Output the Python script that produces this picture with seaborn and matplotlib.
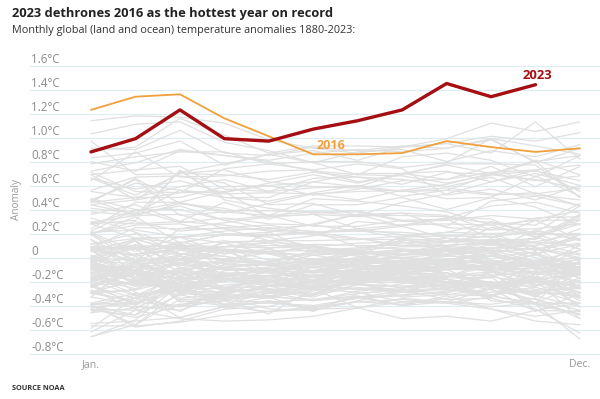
import numpy as np
import pandas as pd
import matplotlib
matplotlib.use("Agg")
import matplotlib.pyplot as plt
import matplotlib.transforms as mtransforms
import seaborn as sns

# monthly anomalies, Jan..Dec, read/estimated from the chart
months = ["Jan.", "Feb.", "Mar.", "Apr.", "May", "Jun.", "Jul.", "Aug.", "Sep.", "Oct.", "Nov.", "Dec."]

anom_2023 = [0.88, 0.99, 1.23, 0.99, 0.97, 1.07, 1.14, 1.23, 1.45, 1.34, 1.44]
anom_2016 = [1.23, 1.34, 1.36, 1.16, 1.01, 0.86, 0.86, 0.87, 0.97, 0.92, 0.88, 0.91]

# all other years 1880-2022, in hundredths of a degree C
gray_years = [y for y in range(1880, 2023) if y != 2016]
gray_rows = [
    [-5, -14, -10, -16, -9, -20, -18, -7, -13, -22, -20, -21],
    [-18, -12, 1, -2, -5, -19, 0, -3, -15, -21, -18, -7],
    [9, 8, 2, -19, -16, -24, -10, -8, -13, -23, -16, -32],
    [-30, -36, -12, -18, -18, -8, -7, -14, -22, -12, -24, -12],
    [-13, -8, -36, -40, -33, -35, -30, -27, -27, -24, -30, -29],
    [-59, -33, -26, -42, -36, -42, -33, -31, -29, -23, -24, -9],
    [-43, -50, -40, -28, -26, -32, -17, -26, -18, -25, -29, -25],
    [-66, -56, -35, -34, -30, -24, -22, -28, -21, -31, -27, -38],
    [-42, -37, -41, -30, -24, -20, -9, -10, -8, 2, -6, -8],
    [-10, 16, 3, -2, -6, -13, -7, -17, -20, -24, -28, -33],
    [-43, -44, -39, -36, -47, -26, -29, -37, -37, -26, -45, -30],
    [-44, -48, -17, -28, -15, -22, -17, -14, -13, -21, -38, -2],
    [-30, -10, -37, -34, -24, -23, -27, -22, -13, -16, -44, -45],
    [-66, -52, -23, -31, -34, -26, -13, -21, -23, -16, -22, -34],
    [-46, -31, -24, -39, -29, -36, -28, -25, -24, -20, -29, -24],
    [-38, -39, -25, -18, -24, -16, -12, -11, -3, -12, -17, -24],
    [-23, -10, -30, -32, -16, -4, 3, -7, -3, 2, -10, -4],
    [-11, -14, -12, -3, -4, -12, -6, -3, -3, -8, -16, -26],
    [-4, -29, -45, -26, -30, -20, -22, -16, -24, -32, -38, -22],
    [-15, -31, -27, -13, -19, -24, -10, -3, -2, -5, 5, -26],
    [-33, -4, 1, -10, -10, -6, -6, -8, -4, -2, -14, -4],
    [-19, -10, -6, -13, -12, -15, -14, -14, -13, -25, -19, -29],
    [-20, -4, -28, -33, -28, -33, -22, -24, -24, -32, -39, -48],
    [-25, -11, -24, -40, -37, -42, -33, -40, -37, -41, -38, -47],
    [-55, -53, -50, -41, -45, -43, -42, -37, -38, -33, -18, -29],
    [-27, -43, -22, -30, -24, -21, -19, -12, -18, -24, -5, -17],
    [-19, -32, -15, -8, -21, -15, -18, -14, -26, -20, -33, -12],
    [-40, -48, -31, -39, -38, -40, -34, -32, -28, -21, -39, -38],
    [-38, -30, -50, -41, -37, -35, -32, -40, -32, -43, -49, -44],
    [-62, -44, -51, -53, -52, -49, -42, -34, -37, -39, -34, -51],
    [-39, -34, -41, -36, -37, -43, -37, -35, -38, -43, -53, -56],
    [-57, -57, -54, -48, -45, -41, -37, -39, -34, -26, -20, -24],
    [-24, -14, -32, -18, -20, -26, -42, -51, -49, -53, -44, -38],
    [-39, -41, -44, -32, -43, -44, -36, -29, -31, -26, -14, -13],
    [-6, -22, -22, -25, -18, -19, -15, -13, -16, -4, -12, -11],
    [-17, -3, -19, -3, -12, -11, -5, -15, -13, -24, -14, -4],
    [-8, -12, -34, -30, -33, -45, -30, -27, -35, -34, -43, -63],
    [-39, -58, -53, -43, -41, -30, -19, -19, -18, -36, -39, -68],
    [-46, -42, -26, -35, -32, -25, -20, -21, -16, -7, -18, -36],
    [-12, -19, -23, -17, -27, -31, -25, -27, -22, -24, -38, -38],
    [-13, -24, -12, -25, -24, -30, -23, -24, -20, -27, -35, -44],
    [-4, -21, -26, -26, -24, -19, -13, -18, -15, -12, -18, -15],
    [-28, -38, -18, -27, -32, -28, -21, -33, -31, -32, -13, -20],
    [-24, -38, -26, -32, -33, -24, -26, -27, -30, -12, -3, -12],
    [-18, -26, -13, -27, -27, -23, -26, -29, -26, -33, -17, -41],
    [-29, -27, -18, -15, -22, -27, -19, -18, -17, -17, -2, -8],
    [8, -5, -4, -15, -15, -21, -21, -13, -9, -6, -7, -25],
    [-16, -22, -26, -23, -20, -24, -15, -20, -10, -8, -14, -41],
    [-4, -12, -28, -29, -26, -31, -16, -20, -21, -15, -12, -12],
    [-40, -56, -29, -33, -32, -36, -33, -28, -25, -23, -19, -51],
    [-23, -21, -9, -18, -15, -12, -13, -10, -7, -10, 3, -14],
    [-7, -20, -4, -10, -11, -3, -3, -4, -5, -3, -7, -4],
    [6, -19, -21, -8, -11, -17, -15, -11, -6, -12, -23, -20],
    [-24, -34, -23, -18, -23, -26, -20, -19, -24, -24, -32, -41],
    [-16, -8, -27, -20, -12, -15, -10, -9, -9, -10, -3, -10],
    [-22, 1, -26, -36, -27, -24, -18, -16, -16, -14, -32, -19],
    [-22, -40, -20, -15, -15, -15, -10, -9, -4, -4, -5, -2],
    [-9, 3, -16, -8, -6, -2, -2, 5, 6, 1, -3, -14],
    [5, 3, 7, 6, -7, -11, -4, 0, 3, 6, 3, -18],
    [-3, -5, -15, -6, -6, -3, -4, -3, 2, -4, 2, 20],
    [-4, 8, 7, 9, 8, 11, 10, 10, 13, 13, 16, 31],
    [11, 16, 12, 19, 19, 21, 23, 16, 13, 30, 20, 19],
    [20, 1, 8, 7, 5, 6, 1, -4, 1, 8, 7, 12],
    [-6, 11, -7, 5, 3, -6, 4, 6, 8, 25, 19, 20],
    [28, 16, 17, 12, 14, 14, 15, 18, 21, 29, 20, 7],
    [9, -4, 2, 12, 3, 2, 5, 17, 18, 20, 8, -13],
    [-2, -2, -2, 7, -13, -19, -8, -8, -1, -5, -6, -33],
    [-13, -8, 6, 1, -6, 2, -4, -3, -7, 8, 0, -14],
    [7, -18, -21, -6, -6, -11, -12, -13, -9, -9, -9, -21],
    [1, -16, -2, -9, -11, -20, -14, -9, -10, -6, -8, -15],
    [-30, -27, -8, -20, -11, -8, -13, -17, -13, -24, -31, -17],
    [-33, -39, -16, -8, -3, -5, -4, 2, 3, 5, -9, 6],
    [9, 7, -12, -1, -6, -5, 0, 3, 5, -4, -14, -5],
    [6, 10, 9, 14, 8, 9, 3, 5, 7, 6, -3, 6],
    [-18, -7, -15, -13, -20, -16, -17, -12, -9, -7, -3, -15],
    [15, -14, -29, -19, -20, -11, -13, -4, -10, -10, -27, -26],
    [-14, -24, -21, -19, -23, -15, -13, -19, -20, -25, -18, -14],
    [-8, -8, -5, 5, 5, 8, 6, 9, 9, 8, 10, 16],
    [33, 21, 9, 3, 7, -2, 5, -1, -2, 4, 8, 2],
    [6, 2, 13, 6, 4, 2, 4, 0, -2, -6, -4, 0],
    [-3, 14, -26, -11, -8, -1, -4, 2, 5, -2, -8, 10],
    [6, 15, 6, 9, 10, 10, 4, 6, 1, 1, 4, -9],
    [6, 10, 3, 1, -4, 4, 4, 2, 6, 5, 7, 0],
    [-1, 14, -9, -2, -5, 6, 8, 12, 14, 14, 12, 3],
    [-6, -10, -19, -25, -20, -15, -13, -20, -27, -29, -25, -32],
    [-10, -17, -11, -17, -10, -5, -11, -6, -9, -6, -5, -11],
    [-13, -6, -1, -9, -11, -2, 3, -5, -3, -10, -5, -8],
    [-9, -14, -4, -4, 8, -9, -2, 0, -3, 4, -6, -5],
    [-24, -13, 12, -9, -13, -7, -8, -6, -8, 1, -3, -10],
    [-10, -10, -1, 13, 14, 7, 5, 3, 7, 8, 13, 20],
    [11, 20, 3, 7, -2, -1, -2, -8, 6, 3, -3, -10],
    [-4, -14, -17, -14, -11, -13, -10, -7, -5, -9, -3, -8],
    [-29, -19, -2, -5, -3, 4, 2, 7, 6, 12, 10, 24],
    [20, 27, 28, 20, 18, 21, 16, 10, 10, 13, 9, -2],
    [-17, -23, -9, -10, -9, -8, -6, -2, -6, -11, -9, -8],
    [9, 7, 8, -2, 4, -5, -4, -13, -5, -12, -12, -15],
    [-8, -20, -28, -14, -24, -16, -12, -14, -10, -25, -11, -1],
    [0, 16, 17, 22, 25, 19, 15, 15, 8, 6, 23, 14],
    [7, 8, 11, 5, 5, -5, 4, -10, 6, 1, 17, 7],
    [2, -11, 10, 6, 4, 9, 4, 17, 21, 20, 21, 43],
    [20, 30, 22, 25, 27, 21, 22, 21, 18, 17, 22, 15],
    [44, 36, 43, 31, 24, 27, 22, 26, 16, 10, 16, 33],
    [-2, 9, -5, 9, 12, 4, 6, 2, 13, 15, 15, 35],
    [49, 40, 40, 31, 35, 26, 26, 31, 32, 16, 31, 15],
    [21, 5, 17, 3, 21, 5, 7, 14, 16, 14, 2, -6],
    [15, -3, 10, 9, 13, 10, 2, 15, 10, 12, 3, 11],
    [21, 23, 17, 19, 17, 9, 12, 13, 6, 14, 13, 10],
    [19, 34, 12, 19, 21, 28, 36, 26, 33, 29, 27, 45],
    [48, 35, 45, 39, 39, 38, 35, 35, 34, 32, 17, 28],
    [8, 25, 24, 24, 14, 18, 30, 27, 28, 27, 17, 36],
    [28, 31, 73, 48, 41, 37, 39, 31, 26, 47, 51, 43],
    [36, 44, 30, 46, 35, 49, 47, 43, 38, 27, 31, 31],
    [38, 35, 36, 24, 23, 22, 9, 7, 2, 11, 6, 19],
    [30, 28, 30, 27, 22, 20, 24, 19, 14, 18, 6, 16],
    [19, -3, 24, 29, 34, 36, 24, 27, 33, 43, 46, 37],
    [46, 66, 45, 41, 32, 44, 44, 50, 40, 50, 42, 27],
    [22, 40, 29, 33, 28, 27, 36, 37, 25, 23, 33, 34],
    [28, 39, 46, 37, 45, 53, 48, 56, 61, 70, 64, 68],
    [64, 88, 67, 68, 72, 73, 78, 74, 52, 57, 48, 60],
    [47, 65, 35, 38, 35, 38, 38, 30, 31, 35, 32, 39],
    [24, 46, 46, 55, 34, 36, 34, 37, 35, 23, 24, 28],
    [41, 37, 56, 53, 54, 53, 55, 56, 49, 50, 68, 51],
    [69, 73, 76, 57, 55, 58, 60, 55, 56, 52, 54, 43],
    [71, 55, 54, 55, 60, 52, 57, 64, 65, 76, 59, 76],
    [56, 67, 68, 62, 44, 45, 35, 46, 53, 63, 73, 55],
    [66, 52, 70, 69, 65, 71, 67, 61, 71, 69, 72, 64],
    [48, 62, 56, 50, 50, 63, 59, 70, 65, 71, 73, 77],
    [97, 69, 70, 73, 63, 59, 58, 55, 58, 53, 52, 48],
    [29, 35, 72, 50, 47, 54, 60, 51, 56, 69, 65, 57],
    [55, 50, 50, 59, 60, 63, 70, 70, 72, 63, 70, 60],
    [72, 79, 90, 85, 80, 72, 69, 68, 62, 69, 80, 50],
    [46, 50, 59, 65, 55, 66, 67, 65, 59, 67, 53, 58],
    [44, 48, 54, 74, 78, 73, 63, 69, 78, 78, 77, 50],
    [66, 57, 64, 54, 62, 69, 62, 70, 77, 70, 81, 69],
    [69, 48, 71, 78, 86, 79, 69, 84, 87, 81, 67, 85],
    [83, 87, 97, 77, 86, 89, 81, 92, 99, 112, 105, 113],
    [103, 111, 113, 96, 89, 79, 88, 90, 80, 89, 84, 94],
    [78, 84, 88, 88, 78, 80, 80, 75, 79, 99, 79, 91],
    [89, 92, 116, 102, 87, 93, 93, 92, 95, 101, 97, 104],
    [114, 118, 117, 112, 98, 91, 87, 92, 95, 87, 113, 82],
    [80, 72, 89, 85, 81, 87, 90, 88, 91, 99, 93, 86],
    [91, 90, 106, 87, 85, 92, 89, 93, 91, 98, 80, 85],
]

tick_vals = [-0.8, -0.6, -0.4, -0.2, 0, 0.2, 0.4, 0.6, 0.8, 1.0, 1.2, 1.4, 1.6]
tick_labels = ["-0.8°C", "-0.6°C", "-0.4°C", "-0.2°C", "0", "0.2°C", "0.4°C",
               "0.6°C", "0.8°C", "1.0°C", "1.2°C", "1.4°C", "1.6°C"]

# long tables for seaborn
gray = pd.DataFrame(
    [(yr, m, v / 100) for yr, row in zip(gray_years, gray_rows) for m, v in enumerate(row)],
    columns=["year", "month", "anomaly"],
)
df16 = pd.DataFrame({"month": range(12), "anomaly": anom_2016})
df23 = pd.DataFrame({"month": range(len(anom_2023)), "anomaly": anom_2023})

sns.set_style("white")
plt.rcParams["font.family"] = ["Open Sans", "DejaVu Sans"]

fig = plt.figure(figsize=(6, 3.99), dpi=100)
ax = fig.add_axes([30 / 600, 1 - 356 / 399, 570 / 600, (356 - 58) / 399])

sns.lineplot(data=gray, x="month", y="anomaly", units="year", estimator=None,
             color="#e0e0e0", lw=0.9, ax=ax, legend=False)
sns.lineplot(data=df16, x="month", y="anomaly", color="#f0a03c", lw=1.3, ax=ax)
sns.lineplot(data=df23, x="month", y="anomaly", color="#a50e12", lw=2.4, ax=ax)

ax.set_xlim(-61 / 44.45, 11 + 20 / 44.45)
ax.set_ylim((257.5 - 356) / 120, (257.5 - 58) / 120)
ax.set_yticks(tick_vals)
ax.set_yticklabels([])
ax.grid(axis="y", color="#dfedf2", lw=0.9)
ax.grid(axis="x", visible=False)
ax.set_axisbelow(True)
ax.tick_params(axis="both", length=0)
ax.set_xlabel("")
ax.set_ylabel("")
for s in ax.spines.values():
    s.set_visible(False)

# value labels sit just above their gridlines
trans = mtransforms.blended_transform_factory(ax.transAxes, ax.transData)
for v, lab in zip(tick_vals, tick_labels):
    ax.text(0.002, v + 0.022, lab, transform=trans, ha="left", va="baseline",
            fontsize=8.4, color="#8c8c8c")

ax.set_xticks([0, 11])
ax.set_xticklabels(["Jan.", "Dec."], fontsize=7.6, color="#999999")
ax.tick_params(axis="x", pad=2)

ax.text(10.03, 1.52, "2023", ha="center", va="center", fontsize=9.4,
        fontweight="bold", color="#a50e12")
ax.text(5.4, 0.93, "2016", ha="center", va="center", fontsize=9,
        fontweight="bold", color="#f0a03c")

fig.text(17 / 600, 1 - 200 / 399, "Anomaly", rotation=90, ha="center", va="center",
         fontsize=7.2, color="#9a9a9a")
fig.text(12 / 600, 1 - 13 / 399, "2023 dethrones 2016 as the hottest year on record",
         ha="left", va="center", fontsize=9.3, fontweight="bold", color="#222222")
fig.text(12 / 600, 1 - 30 / 399, "Monthly global (land and ocean) temperature anomalies 1880-2023:",
         ha="left", va="center", fontsize=7.8, color="#333333")
fig.text(12 / 600, 1 - 388 / 399, "SOURCE NOAA", ha="left", va="center",
         fontsize=5.3, fontweight="bold", color="#333333")

fig.savefig("out.png", dpi=100)
